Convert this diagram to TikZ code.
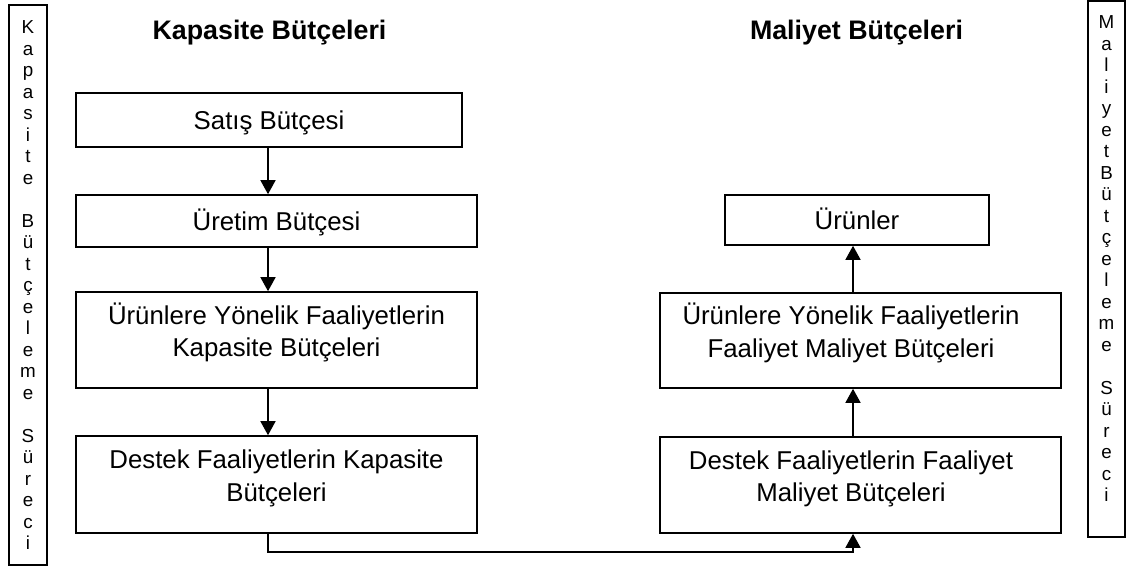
\documentclass[tikz,border=0pt]{standalone}
\usepackage{fontspec}
\setmainfont{Liberation Sans}
\usetikzlibrary{arrows.meta}
\begin{document}
\begin{tikzpicture}[x=0.5pt,y=-0.5pt,
  box/.style={draw=black, line width=0.8pt, rectangle, inner sep=0pt,
    font=\fontsize{12.9pt}{16.25pt}\selectfont},
  onel/.style={box, text height=9.2pt, text depth=0pt},
  twol/.style={box, text height=9.2pt, text depth=25pt},
  vbar/.style={draw=black, line width=1.1pt, rectangle, inner sep=0pt,
    font=\fontsize{9.4pt}{10.75pt}\selectfont},
  ttl/.style={font=\fontsize{13.4pt}{16pt}\selectfont\bfseries, inner sep=0pt, anchor=base},
  arr/.style={line width=0.75pt, -{Triangle[width=7.5pt,length=7pt]}},
]
\useasboundingbox (0,0) rectangle (1128,582);

% column titles
\node[ttl] (tkap) at (269.5,40) {Kapasite Bütçeleri};
\node[ttl] (tmal) at (856.5,40) {Maliyet Bütçeleri};

% capacity budgets (left column)
\node[onel, minimum width=193pt, minimum height=27pt] (sat) at (269,120) {Satış Bütçesi};
\node[onel, minimum width=200.5pt, minimum height=26pt] (ure) at (276.5,221) {Üretim Bütçesi};
\node[twol, minimum width=200.5pt, minimum height=48pt] (kur) at (276.5,340)
  {\begin{tabular}[t]{@{}c@{}}Ürünlere Yönelik Faaliyetlerin\\Kapasite Bütçeleri\end{tabular}};
\node[twol, minimum width=200.5pt, minimum height=48.5pt] (kde) at (276.5,484.5)
  {\begin{tabular}[t]{@{}c@{}}Destek Faaliyetlerin Kapasite\\Bütçeleri\end{tabular}};

% cost budgets (right column); text sits a little left of the box centre
\node[onel, minimum width=132pt, minimum height=25pt] (urn) at (857,220) {Ürünler};
\node[twol, minimum width=200.5pt, minimum height=47.5pt] (mur) at (860.5,340.5)
  {\begin{tabular}[t]{@{}c@{}}Ürünlere Yönelik Faaliyetlerin\\Faaliyet Maliyet Bütçeleri\end{tabular}\hspace*{9.5pt}};
\node[twol, minimum width=200.5pt, minimum height=48pt] (mde) at (860.5,485)
  {\begin{tabular}[t]{@{}c@{}}Destek Faaliyetlerin Faaliyet\\Maliyet Bütçeleri\end{tabular}\hspace*{9.5pt}};

% vertical process bars
\node[vbar, minimum width=19pt, minimum height=280pt, text height=10pt, text depth=261pt] (kvb) at (28,285)
  {\begin{tabular}[t]{@{}c@{}}K\\a\\p\\a\\s\\i\\t\\e\\ \\B\\ü\\t\\ç\\e\\l\\e\\m\\e\\ \\S\\ü\\r\\e\\c\\i\end{tabular}};
\node[vbar, minimum width=18.5pt, minimum height=268pt, text height=10pt, text depth=250pt] (mvb) at (1106.5,269)
  {\begin{tabular}[t]{@{}c@{}}M\\a\\l\\i\\y\\e\\t\\B\\ü\\t\\ç\\e\\l\\e\\m\\e\\ \\S\\ü\\r\\e\\c\\i\end{tabular}};

% connector axes
\coordinate (lax) at (268,0);
\coordinate (rax) at (853,0);

\draw[arr] (sat.south -| lax) -- (ure.north -| lax);
\draw[arr] (ure.south -| lax) -- (kur.north -| lax);
\draw[arr] (kur.south -| lax) -- (kde.north -| lax);
\draw[arr] (kde.south -| lax) -- ++(0,18) -| (mde.south -| rax);
\draw[arr] (mde.north -| rax) -- (mur.south -| rax);
\draw[arr] (mur.north -| rax) -- (urn.south -| rax);
\end{tikzpicture}
\end{document}
